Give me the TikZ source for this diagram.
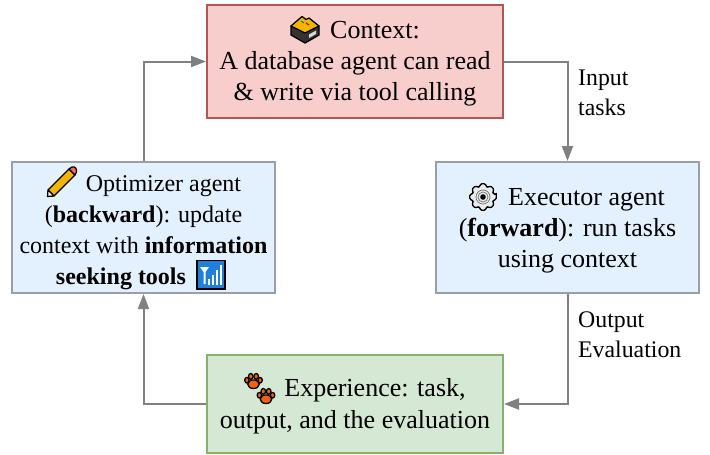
\documentclass[tikz,border=0pt]{standalone}
\usepackage{fontspec}
\setmainfont{Liberation Serif}
\usetikzlibrary{arrows.meta}
\definecolor{arrowgray}{HTML}{808080}
\definecolor{redfill}{HTML}{F8CECC}
\definecolor{reddraw}{HTML}{B85450}
\definecolor{bluefill}{HTML}{E3F1FE}
\definecolor{bluedraw}{HTML}{9A9FA6}
\definecolor{greenfill}{HTML}{D5E8D4}
\definecolor{greendraw}{HTML}{82B366}
\definecolor{pawcol}{HTML}{F4610B}
\definecolor{pencilcol}{HTML}{F5B400}
\definecolor{signalcol}{HTML}{1E7FDC}
\tikzset{
  x=1pt,y=-1pt,
  box/.style={draw,line width=2pt,align=center,inner sep=0pt,font=\fontsize{26}{31}\selectfont},
  ctxbox/.style={box,fill=redfill,draw=reddraw,minimum width=296pt,minimum height=113pt},
  agentbox/.style={box,fill=bluefill,draw=bluedraw,minimum width=263pt,minimum height=131pt},
  optbox/.style={agentbox,font=\fontsize{24}{31}\selectfont},
  expbox/.style={box,fill=greenfill,draw=greendraw,minimum width=296pt,minimum height=98pt,font=\fontsize{26}{32.5}\selectfont},
  flow/.style={draw=arrowgray,line width=2pt,-{Triangle[length=15pt,width=11pt]}},
  lbl/.style={align=left,inner sep=0pt,anchor=north west,font=\fontsize{23.8}{30}\selectfont},
  ink/.style={draw=black,line width=1.3pt,line join=round}
}
\newcommand{\pawicon}[2]{%
  \begin{scope}[shift={(#1,#2)}]
    \filldraw[ink,fill=pawcol] (0,3.2) ellipse[x radius=5.8,y radius=4.3];
    \filldraw[ink,fill=pawcol] (-6.6,-0.8) ellipse[x radius=2.2,y radius=2.8];
    \filldraw[ink,fill=pawcol] (6.6,-0.8) ellipse[x radius=2.2,y radius=2.8];
    \filldraw[ink,fill=pawcol] (-2.7,-4.6) ellipse[x radius=2.3,y radius=2.9];
    \filldraw[ink,fill=pawcol] (2.7,-4.6) ellipse[x radius=2.3,y radius=2.9];
  \end{scope}}
\begin{document}
\begin{tikzpicture}
\useasboundingbox (0,0) rectangle (710,455);
\node[ctxbox] (ctx) at (355,61.5) {\rule{0pt}{22pt}\hspace*{40pt}Context:\\A database agent can read\\\& write via tool calling};
\node[optbox] (opt) at (143.5,227.5) {\rule{0pt}{26pt}\hspace*{40pt}Optimizer agent\\(\textbf{backward}): update\\context with \textbf{information}\\\textbf{seeking tools}\hspace*{45pt}};
\node[agentbox] (exe) at (567.5,227.5) {\rule{0pt}{24pt}\hspace*{38pt}Executor agent\\(\textbf{forward}): run tasks\\using context};
\node[expbox] (exp) at (355,404) {\rule{0pt}{23pt}\hspace*{40pt}Experience: task,\\output, and the evaluation};
\coordinate (c1) at (exe.north |- ctx.east);
\coordinate (c2) at (exe.south |- exp.east);
\coordinate (c3) at (opt.south |- exp.west);
\coordinate (c4) at (opt.north |- ctx.west);
\draw[flow] (ctx.east) -- (c1) -- (exe.north);
\draw[flow] (exe.south) -- (c2) -- (exp.east);
\draw[flow] (exp.west) -- (c3) -- (opt.south);
\draw[flow] (opt.north) -- (c4) -- (ctx.west);
\node[lbl] (inlbl) at (578,70) {Input\\tasks};
\node[lbl] (outlbl) at (578,312) {Output\\Evaluation};
% box icon
\filldraw[ink,fill=black!80] (291,26) -- (291,35) -- (305,43) -- (319,35) -- (319,26) -- cycle;
\filldraw[ink,fill=pencilcol] (291,26) -- (302,16.5) -- (306,19.5) -- (309,18) -- (319,26) -- (305,33) -- cycle;
\draw[green!60!black,line width=1.2pt] (301,21) -- (304,23);
\draw[red!70!black,line width=1.2pt] (306,23) -- (309,25);
\fill[white!85!black] (309,34.5) -- (316,30.5) -- (316,34) -- (309,38) -- cycle;
% pencil icon
\filldraw[ink,fill=pencilcol] (48,190) -- (69,169) -- (75,175) -- (54,196) -- cycle;
\filldraw[ink,fill=white!85!pencilcol] (48,190) -- (47.5,196.5) -- (54,196) -- cycle;
\filldraw[ink,fill=red!60!white] (69,169) -- (72,167) .. controls (75,166) and (77,169) .. (76.5,172) -- (75,175) -- cycle;
% signal icon
\filldraw[draw=black,line width=1.6pt,fill=signalcol] (197,260.5) rectangle (225,289);
\fill[white] (200,267) -- (209,267) -- (205.5,272) -- (205.5,284) -- (203.5,284) -- (203.5,272) -- cycle;
\fill[white] (208,279) rectangle (210,285);
\fill[white] (212,275) rectangle (214,285);
\fill[white] (216,270) rectangle (218,285);
\fill[white] (220,265) rectangle (222,285);
% gear icon
\begin{scope}[shift={(483,197)}]
\filldraw[ink,fill=black!8,rounded corners=1.2pt]
  (-10:13.5) \foreach \a in {0,45,...,315} { -- (\a-10:13.5) -- (\a+10:13.5) -- (\a+18:10.8) -- (\a+27:10.8) } -- cycle;
\draw[black!55,line width=0.7pt] (0,0) circle[radius=7];
\draw[black!55,line width=0.7pt] (0,0) circle[radius=5];
\fill[black] (0,0) circle[radius=2.8];
\end{scope}
% paw icons
\pawicon{253.5}{381}
\pawicon{266}{396}
\end{tikzpicture}
\end{document}
